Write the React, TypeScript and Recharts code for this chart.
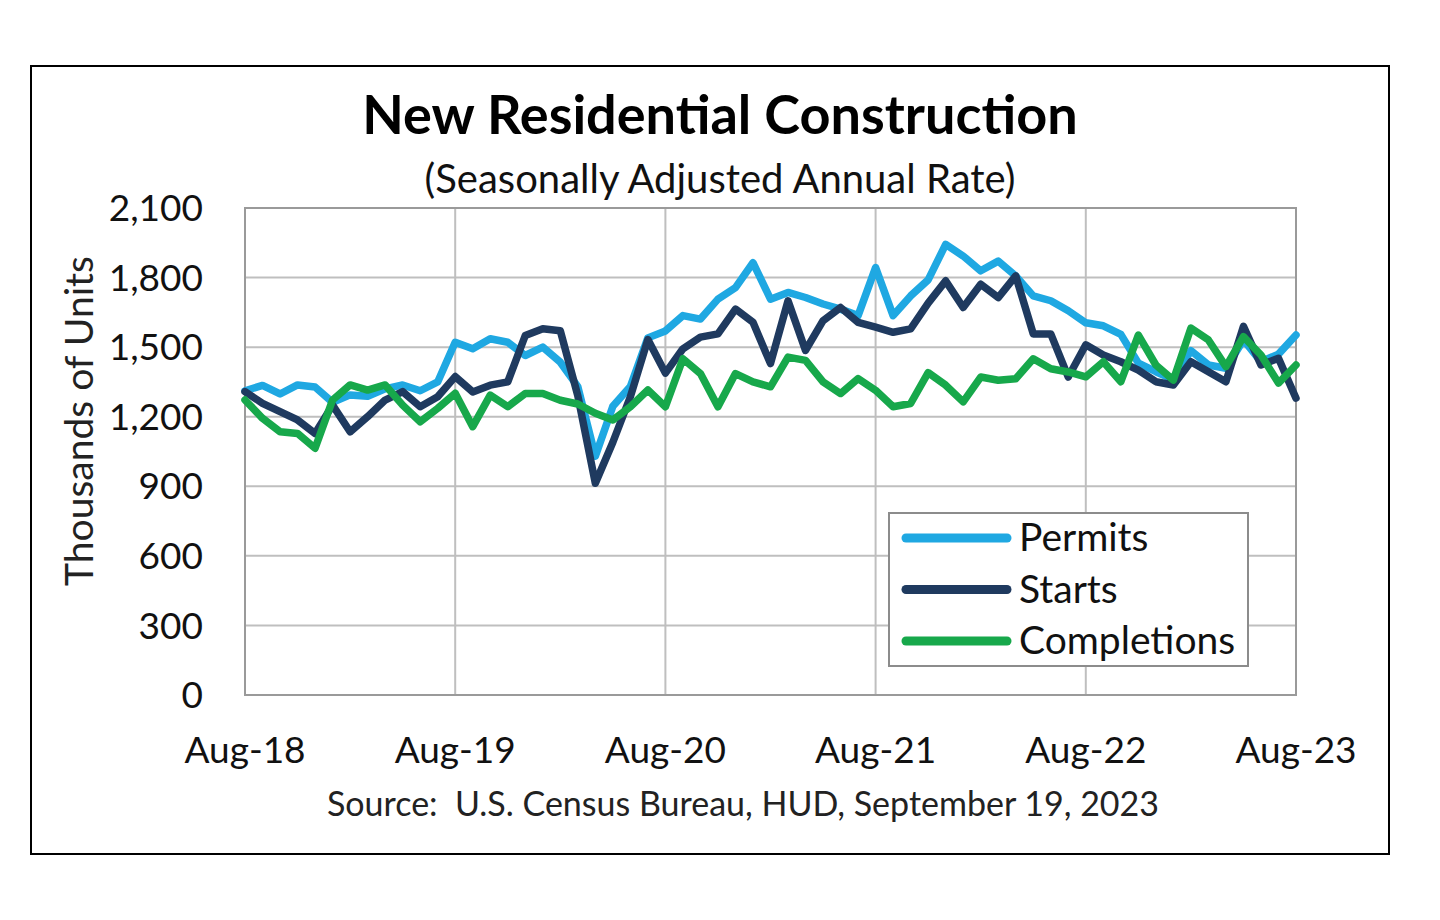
import React from 'react';
import { CartesianGrid, Line, LineChart, ReferenceArea, XAxis, YAxis } from 'recharts';

// monthly categories, Aug-18 .. Aug-23
const months = [
  'Aug-18', 'Sep-18', 'Oct-18', 'Nov-18', 'Dec-18', 'Jan-19', 'Feb-19', 'Mar-19', 'Apr-19', 'May-19', 'Jun-19', 'Jul-19',
  'Aug-19', 'Sep-19', 'Oct-19', 'Nov-19', 'Dec-19', 'Jan-20', 'Feb-20', 'Mar-20', 'Apr-20', 'May-20', 'Jun-20', 'Jul-20',
  'Aug-20', 'Sep-20', 'Oct-20', 'Nov-20', 'Dec-20', 'Jan-21', 'Feb-21', 'Mar-21', 'Apr-21', 'May-21', 'Jun-21', 'Jul-21',
  'Aug-21', 'Sep-21', 'Oct-21', 'Nov-21', 'Dec-21', 'Jan-22', 'Feb-22', 'Mar-22', 'Apr-22', 'May-22', 'Jun-22', 'Jul-22',
  'Aug-22', 'Sep-22', 'Oct-22', 'Nov-22', 'Dec-22', 'Jan-23', 'Feb-23', 'Mar-23', 'Apr-23', 'May-23', 'Jun-23', 'Jul-23',
  'Aug-23',
];

// thousands of units, SAAR
const permits = [
  1312, 1335, 1298, 1337, 1328, 1262, 1294, 1288, 1320, 1337, 1312, 1350,
  1521, 1493, 1536, 1521, 1464, 1500, 1435, 1330, 1030, 1245, 1330, 1540,
  1570, 1636, 1621, 1707, 1757, 1864, 1707, 1736, 1714, 1686, 1664, 1636,
  1843, 1636, 1721, 1790, 1943, 1893, 1829, 1871, 1807, 1721, 1700, 1657,
  1605, 1592, 1555, 1431, 1394, 1360, 1485, 1423, 1409, 1531, 1437, 1470,
  1552,
];

const starts = [
  1308, 1258, 1222, 1186, 1128, 1250, 1135, 1200, 1272, 1308, 1243, 1286,
  1373, 1307, 1336, 1350, 1550, 1579, 1571, 1290, 913, 1090, 1286, 1533,
  1388, 1493, 1543, 1557, 1664, 1607, 1429, 1700, 1486, 1614, 1671, 1607,
  1586, 1564, 1579, 1690, 1786, 1671, 1771, 1714, 1807, 1557, 1557, 1371,
  1510, 1466, 1437, 1401, 1351, 1337, 1437, 1394, 1351, 1590, 1423, 1452,
  1280,
];

const completions = [
  1272, 1193, 1135, 1128, 1064, 1272, 1337, 1315, 1337, 1250, 1178, 1236,
  1301, 1157, 1293, 1243, 1300, 1300, 1271, 1255, 1215, 1186, 1243, 1315,
  1243, 1450, 1386, 1243, 1386, 1350, 1329, 1457, 1443, 1350, 1300, 1364,
  1314, 1243, 1257, 1390, 1336, 1264, 1371, 1357, 1364, 1450, 1407, 1393,
  1372, 1437, 1351, 1552, 1423, 1358, 1582, 1531, 1416, 1545, 1466, 1345,
  1423,
];

const yTicks = [0, 300, 600, 900, 1200, 1500, 1800, 2100];
const xTicks = [0, 12, 24, 36, 48, 60];

const series = [
  { key: 'permits', name: 'Permits', color: '#1fa8e2' },
  { key: 'starts', name: 'Starts', color: '#1f3a5f' },
  { key: 'completions', name: 'Completions', color: '#17a84b' },
];

const data = months.map((m, i) => ({
  idx: i,
  month: m,
  permits: permits[i],
  starts: starts[i],
  completions: completions[i],
}));

const FONT = 'Lato, "Open Sans", sans-serif';

const fmt = (v: number) => v.toLocaleString('en-US');

export default function App() {
  return (
    <div style={{ position: 'absolute', left: 0, top: 0, width: 1440, height: 920, background: '#fff', fontFamily: FONT }}>
      <div
        style={{
          position: 'absolute', left: 30, top: 65, width: 1360, height: 790,
          border: '2px solid #000', boxSizing: 'border-box',
        }}
      />
      <div style={{ position: 'absolute', left: 0, top: 0 }}>
        <LineChart width={1440} height={920} data={data} margin={{ top: 208, right: 144, bottom: 165, left: 145 }}>
          <CartesianGrid stroke="#bfbfbf" strokeWidth={2} />
          <ReferenceArea x1={0} x2={60} y1={0} y2={2100} fill="none" stroke="#9a9a9a" strokeWidth={2} />
          <XAxis
            type="number"
            dataKey="idx"
            domain={[0, 60]}
            ticks={xTicks}
            tickFormatter={(v: number) => months[v]}
            axisLine={false}
            tickLine={false}
            tickSize={0}
            tickMargin={42}
            height={60}
            tick={{ fontSize: 37, fill: '#111', fontFamily: FONT }}
          />
          <YAxis
            domain={[0, 2100]}
            ticks={yTicks}
            tickFormatter={fmt}
            axisLine={false}
            tickLine={false}
            tickSize={0}
            tickMargin={42}
            width={100}
            tick={{ fontSize: 37, fill: '#111', fontFamily: FONT }}
          />
          {series.map(s => (
            <Line
              key={s.key}
              type="linear"
              dataKey={s.key}
              name={s.name}
              stroke={s.color}
              strokeWidth={7.5}
              strokeLinejoin="round"
              strokeLinecap="round"
              dot={false}
              activeDot={false}
              isAnimationActive={false}
            />
          ))}
        </LineChart>
      </div>
      <svg width={1440} height={920} style={{ position: 'absolute', left: 0, top: 0, pointerEvents: 'none' }}>
        <text x={720} y={134} textAnchor="middle" fontSize={54} fontWeight={700} fill="#000" fontFamily={FONT}>
          New Residential Construction
        </text>
        <text x={720} y={193} textAnchor="middle" fontSize={40} fill="#111" fontFamily={FONT}>
          (Seasonally Adjusted Annual Rate)
        </text>
        <text x={743} y={816} textAnchor="middle" fontSize={34} fill="#222" fontFamily={FONT} style={{ whiteSpace: 'pre' }}>
          Source:  U.S. Census Bureau, HUD, September 19, 2023
        </text>
        <text
          x={0} y={0} textAnchor="middle" fontSize={39} fill="#222" fontFamily={FONT}
          transform="translate(93, 421) rotate(-90)"
        >
          Thousands of Units
        </text>
        {/* legend */}
        <rect x={889} y={513} width={359} height={153} fill="#fff" stroke="#8c8c8c" strokeWidth={2} />
        {series.map((s, i) => (
          <g key={s.key}>
            <line x1={906} x2={1007} y1={538 + i * 51.5} y2={538 + i * 51.5} stroke={s.color} strokeWidth={9} strokeLinecap="round" />
            <text x={1019} y={551 + i * 51.5} fontSize={39} fill="#111" fontFamily={FONT}>{s.name}</text>
          </g>
        ))}
      </svg>
    </div>
  );
}
